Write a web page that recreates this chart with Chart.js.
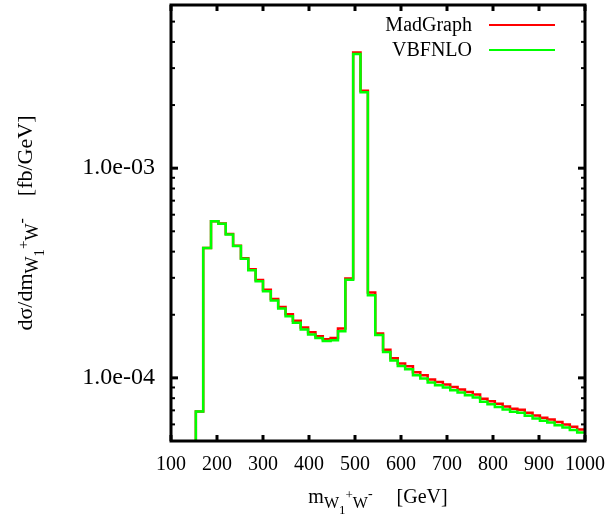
<!DOCTYPE html>
<html><head><meta charset="utf-8">
<script src="https://cdn.jsdelivr.net/npm/chart.js@4.4.1/dist/chart.umd.min.js"></script>
<style>html,body{margin:0;padding:0;background:#fff}</style>
</head><body>
<canvas id="c" width="613" height="520"></canvas>
<script>
// ---- data ----
// left bin edges (GeV) + final right edge; first bin is below the visible y range
const binEdges = [138,154,170,187,203,219,235,252,268,284,300,317,333,349,365,382,398,414,430,447,463,479,496,512,528,544,561,577,593,609,626,642,658,674,691,707,723,739,756,772,788,804,821,837,853,869,886,902,918,934,951,967,983,1000];
const madgraph = [1e-6,6.92e-5,4.16e-4,5.59e-4,5.45e-4,4.85e-4,4.27e-4,3.72e-4,3.30e-4,2.93e-4,2.63e-4,2.38e-4,2.18e-4,2.01e-4,1.87e-4,1.74e-4,1.65e-4,1.58e-4,1.53e-4,1.55e-4,1.72e-4,2.98e-4,3.56e-3,2.34e-3,2.55e-4,1.63e-4,1.36e-4,1.24e-4,1.17e-4,1.135e-4,1.065e-4,1.028e-4,9.83e-5,9.55e-5,9.30e-5,9.05e-5,8.81e-5,8.56e-5,8.34e-5,7.96e-5,7.74e-5,7.52e-5,7.31e-5,7.13e-5,7.05e-5,6.82e-5,6.62e-5,6.46e-5,6.33e-5,6.16e-5,6.00e-5,5.84e-5,5.68e-5];
const vbfnlo = [1e-6,6.92e-5,4.16e-4,5.59e-4,5.43e-4,4.83e-4,4.25e-4,3.70e-4,3.26e-4,2.89e-4,2.59e-4,2.34e-4,2.14e-4,1.97e-4,1.83e-4,1.70e-4,1.61e-4,1.55e-4,1.50e-4,1.51e-4,1.67e-4,2.94e-4,3.50e-3,2.30e-3,2.48e-4,1.60e-4,1.33e-4,1.21e-4,1.14e-4,1.098e-4,1.03e-4,9.93e-5,9.50e-5,9.23e-5,8.99e-5,8.74e-5,8.51e-5,8.27e-5,8.06e-5,7.69e-5,7.48e-5,7.27e-5,7.06e-5,6.89e-5,6.81e-5,6.59e-5,6.40e-5,6.24e-5,6.12e-5,5.95e-5,5.80e-5,5.64e-5,5.49e-5];
const seriesNames = ['MadGraph','VBFNLO'];
const xTicks = [100,200,300,400,500,600,700,800,900,1000];
const yTickValues = [1e-4, 1e-3];
const yTickLabels = ['1.0e-04','1.0e-03'];
const yMinorTicks = [6e-5,7e-5,8e-5,9e-5,2e-4,3e-4,4e-4,5e-4,6e-4,7e-4,8e-4,9e-4,2e-3,3e-3,4e-3,5e-3];

// ---- build step points ----
function steps(vals){
  return binEdges.map((e,i)=>({x:e, y: vals[Math.min(i, vals.length-1)]}));
}
const FONT = 'Liberation Serif';

function drawRich(ctx, parts, x, base){
  let total = 0;
  parts.forEach(p=>{ ctx.font = p.s+'px "'+FONT+'"'; p.w = p.gap!==undefined ? p.gap : ctx.measureText(p.t).width; total += p.w; });
  let cx = x - total/2;
  parts.forEach(p=>{
    if (p.t) { ctx.font = p.s+'px "'+FONT+'"'; ctx.fillText(p.t, cx, base + (p.dy||0)); }
    cx += p.w;
  });
}

const deco = {
  id:'deco',
  afterDatasetsDraw(chart){
    const {ctx, chartArea:a, scales:{x,y}} = chart;
    ctx.save();
    ctx.strokeStyle = '#000';
    ctx.lineCap = 'butt';
    const line=(x1,y1,x2,y2)=>{ctx.beginPath();ctx.moveTo(x1,y1);ctx.lineTo(x2,y2);ctx.stroke();};
    ctx.lineWidth = 3;
    xTicks.forEach(v=>{const px=x.getPixelForValue(v); line(px,a.bottom,px,a.bottom-6); line(px,a.top,px,a.top+6);});
    yTickValues.forEach(v=>{const py=y.getPixelForValue(v); line(a.left,py,a.left+7,py); line(a.right,py,a.right-7,py);});
    ctx.lineWidth = 2;
    yMinorTicks.forEach(v=>{const py=y.getPixelForValue(v); line(a.left,py,a.left+4,py); line(a.right,py,a.right-4,py);});
    ctx.lineWidth = 3;
    ctx.strokeRect(a.left, a.top, a.right-a.left, a.bottom-a.top);

    // legend
    ctx.fillStyle = '#000';
    ctx.font = '20px "'+FONT+'"';
    ctx.textAlign = 'right';
    ctx.textBaseline = 'middle';
    const legCols = ['#ff0000','#00ff00'];
    seriesNames.forEach((n,i)=>{
      const ly = 25 + i*25;
      ctx.fillText(n, 472, ly+1);
      ctx.strokeStyle = legCols[i]; ctx.lineWidth = 2;
      line(489, ly, 555, ly);
    });

    // x title
    ctx.textAlign = 'left';
    ctx.textBaseline = 'alphabetic';
    ctx.fillStyle = '#000';
    const cxm = (a.left + a.right)/2;
    drawRich(ctx, [
      {t:'m', s:20, dy:0},
      {t:'W', s:16, dy:5},
      {t:'1', s:13, dy:11},
      {t:'+', s:13, dy:-4},
      {t:'W', s:16, dy:5},
      {t:'-', s:14, dy:-5},
      {gap:24, s:20},
      {t:'[GeV]', s:20, dy:0}
    ], cxm, 503);

    // y title (rotated)
    ctx.save();
    ctx.translate(32, (a.top + a.bottom)/2);
    ctx.rotate(-Math.PI/2);
    drawRich(ctx, [
      {t:'dσ/dm', s:22, dy:0},
      {t:'W', s:18, dy:6},
      {t:'1', s:15, dy:12},
      {t:'+', s:15, dy:-4},
      {t:'W', s:18, dy:6},
      {t:'-', s:16, dy:-5},
      {gap:22, s:22},
      {t:'[fb/GeV]', s:22, dy:0}
    ], 0, 0);
    ctx.restore();
    ctx.restore();
  }
};

new Chart(document.getElementById('c'), {
  type:'line',
  data:{ datasets:[
    {label:seriesNames[0], data:steps(madgraph), borderColor:'#ff0000', borderWidth:2.5, stepped:'before', pointRadius:0, fill:false, order:2},
    {label:seriesNames[1], data:steps(vbfnlo), borderColor:'#00ff00', borderWidth:2.5, stepped:'before', pointRadius:0, fill:false, order:1}
  ]},
  options:{
    responsive:false, animation:false,
    layout:{padding:{left:0, right:28, top:5, bottom:0}, autoPadding:false},
    plugins:{legend:{display:false}, tooltip:{enabled:false}},
    scales:{
      x:{type:'linear', min:100, max:1000,
        afterBuildTicks:s=>{s.ticks = xTicks.map(v=>({value:v}));},
        afterFit:s=>{s.height = 79; s.paddingLeft = 0; s.paddingRight = 0;},
        ticks:{color:'#000', font:{family:FONT, size:20}, padding:12, maxRotation:0, autoSkip:false, callback:v=>String(v)},
        grid:{display:false, drawTicks:false}, border:{display:false}},
      y:{type:'logarithmic', min:5e-5, max:6e-3,
        afterBuildTicks:s=>{s.ticks = yTickValues.map(v=>({value:v}));},
        afterFit:s=>{s.width = 171; s.paddingTop = 0; s.paddingBottom = 0;},
        ticks:{color:'#000', font:{family:FONT, size:24}, padding:16, autoSkip:false, callback:(v,i)=>yTickLabels[i]},
        grid:{display:false, drawTicks:false}, border:{display:false}}
    }
  },
  plugins:[deco]
});
</script>
</body></html>
